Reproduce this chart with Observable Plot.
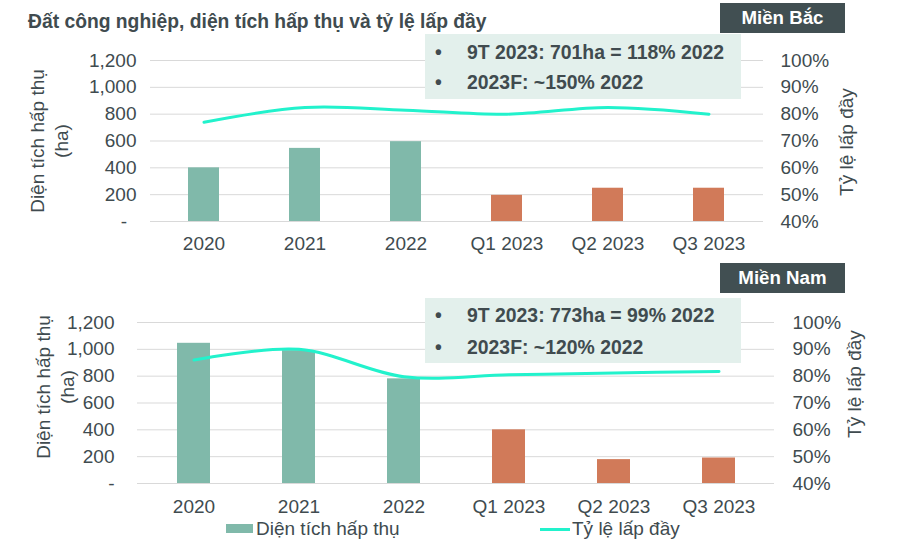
<!DOCTYPE html>
<html>
<head>
<meta charset="utf-8">
<script src="https://cdn.jsdelivr.net/npm/d3@7"></script>
<script src="https://cdn.jsdelivr.net/npm/@observablehq/plot@0.6"></script>
<style>
  html, body { margin: 0; padding: 0; background: #fff; }
  #wrap { position: relative; width: 897px; height: 549px; overflow: hidden; font-family: "Liberation Sans", Arial, sans-serif; color: #404b4f; }
  .abs { position: absolute; }
  .title { left: 28px; top: 9px; font-size: 19.3px; font-weight: bold; line-height: 26px; white-space: nowrap; }
  .badge { width: 125px; height: 30px; left: 720px; background: #414f52; color: #fff; font-weight: bold; font-size: 18.7px; line-height: 30px; text-align: center; z-index: 3; }
  .note { left: 425px; width: 316px; height: 65px; background: #e3f0ec; z-index: 3; font-weight: bold; font-size: 19.4px; }
  .note .row { position: relative; height: 30px; line-height: 30px; white-space: nowrap; }
  .note .row .b { position: absolute; left: 10px; }
  .note .row .t { position: absolute; left: 42px; }
  .ytitle { width: 220px; text-align: center; font-size: 19px; line-height: 24px; transform: rotate(-90deg); transform-origin: 50% 50%; white-space: nowrap; }
  .leg { font-size: 19px; line-height: 22px; white-space: nowrap; }
  .chart { left: 0; z-index: 1; }
</style>
</head>
<body>
<div id="wrap"></div>
<script>
// ---- data ----
const periods = ["2020", "2021", "2022", "Q1 2023", "Q2 2023", "Q3 2023"];
const periodKind = ["year", "year", "year", "quarter", "quarter", "quarter"];
const northArea = [400, 545, 595, 195, 248, 248];     // ha
const northRate = [77, 82.5, 81.5, 80, 82.5, 80];     // %
const southArea = [1045, 990, 780, 400, 178, 190];   // ha
const southRate = [86, 90, 79.8, 80.5, 81.2, 81.7];  // %
const areaTicks = [0, 200, 400, 600, 800, 1000, 1200];
const rateTicks = [40, 50, 60, 70, 80, 90, 100];
const titleText = "Đất công nghiệp, diện tích hấp thụ và tỷ lệ lấp đầy";
const northLabel = "Miền Bắc";
const southLabel = "Miền Nam";
const northNotes = ["9T 2023: 701ha = 118% 2022", "2023F: ~150% 2022"];
const southNotes = ["9T 2023: 773ha = 99% 2022", "2023F: ~120% 2022"];
const leftTitle = ["Diện tích hấp thụ", "(ha)"];
const rightTitle = "Tỷ lệ lấp đầy";
const legendBar = "Diện tích hấp thụ";
const legendLine = "Tỷ lệ lấp đầy";

const green = "#80b9aa", orange = "#d17a59", lineColor = "#22f2cc", gridColor = "#d9d9d9", textColor = "#404b4f";

// map rate (%) onto the area axis: 40% -> 0, 100% -> 1200
const rateToArea = d3.scaleLinear().domain([40, 100]).range([0, 1200]);

function panel({area, rate, marginLeft, marginRight, leftPad, rightPad, xPad, zeroLabel}) {
  const data = periods.map((p, i) => ({period: p, area: area[i], rate: rate[i], kind: periodKind[i]}));
  return Plot.plot({
    width: 897, height: 265,
    marginLeft, marginRight, marginTop: 60, marginBottom: 44,
    style: {fontFamily: '"Liberation Sans", Arial, sans-serif', fontSize: "19px", color: textColor, background: "transparent", overflow: "visible"},
    x: {domain: periods, paddingInner: 0.69, paddingOuter: 0.35, label: null},
    y: {domain: [0, 1200], label: null},
    color: {domain: ["year", "quarter"], range: [green, orange]},
    marks: [
      Plot.ruleY(areaTicks, {stroke: gridColor, strokeWidth: 1}),
      Plot.barY(data, {x: "period", y: "area", fill: "kind"}),
      Plot.line(data, {x: "period", y: d => rateToArea(d.rate), stroke: lineColor, strokeWidth: 3, curve: "catmull-rom"}),
      Plot.axisX({tickSize: 0, tickPadding: xPad, label: null, fill: textColor}),
      Plot.axisY(areaTicks, {anchor: "left", tickSize: 0, tickPadding: leftPad, label: null, fill: textColor,
        tickFormat: d => d === 0 ? zeroLabel : d3.format(",")(d)}),
      Plot.axisY(rateTicks.map(r => rateToArea(r)), {anchor: "right", tickSize: 0, tickPadding: rightPad, label: null, fill: textColor,
        tickFormat: d => Math.round(rateToArea.invert(d)) + "%"})
    ]
  });
}

const wrap = document.getElementById("wrap");
function add(cls, styleObj, html) {
  const el = document.createElement("div");
  el.className = "abs " + cls;
  Object.assign(el.style, styleObj);
  if (html !== undefined) el.innerHTML = html;
  wrap.appendChild(el);
  return el;
}

// charts
const top1 = add("chart", {top: "0px"});
top1.appendChild(panel({area: northArea, rate: northRate, marginLeft: 150, marginRight: 134, leftPad: 14, rightPad: 17, xPad: 15, zeroLabel: "-\u2002"}));
const top2 = add("chart", {top: "262px"});
top2.appendChild(panel({area: southArea, rate: southRate, marginLeft: 137, marginRight: 123, leftPad: 23, rightPad: 18, xPad: 16, zeroLabel: "-"}));

// title
add("title", {}, titleText);

// badges
add("badge", {top: "3px"}, northLabel);
add("badge", {top: "263px"}, southLabel);

// notes
function note(top, lines, padTop, rowH) {
  const el = add("note", {top: top + "px", paddingTop: padTop + "px", boxSizing: "border-box"});
  lines.forEach(t => {
    const r = document.createElement("div");
    r.className = "row";
    r.style.height = rowH + "px"; r.style.lineHeight = rowH + "px";
    r.innerHTML = '<span class="b">•</span><span class="t"></span>';
    r.querySelector(".t").textContent = t;
    el.appendChild(r);
  });
}
note(34, northNotes, 3, 30);
note(298, southNotes, 1, 32);

// axis titles
function yTitle(cx, cy, lines) {
  const h = lines.length * 24;
  add("ytitle", {left: (cx - 110) + "px", top: (cy - h / 2) + "px", height: h + "px"}, lines.map(l => `<div>${l}</div>`).join(""));
}
yTitle(50, 141, leftTitle);
yTitle(56, 387, leftTitle);
yTitle(847, 142, [rightTitle]);
yTitle(855, 384, [rightTitle]);

// legend
add("", {left: "226px", top: "524px", width: "27px", height: "9px", background: green});
add("leg", {left: "256px", top: "518px"}, legendBar);
add("", {left: "540px", top: "527.5px", width: "30px", height: "3px", background: lineColor});
add("leg", {left: "572px", top: "518px"}, legendLine);
</script>
</body>
</html>
